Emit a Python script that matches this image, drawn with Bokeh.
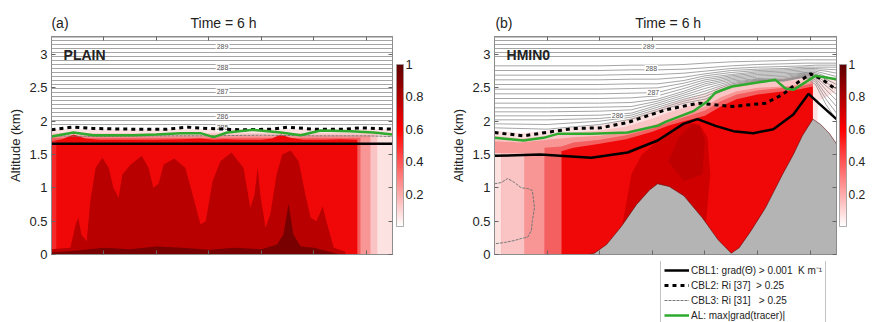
from bokeh.plotting import figure
from bokeh.models import (LinearAxis, FixedTicker, Label, ColorBar, LinearColorMapper,
                          Legend, LegendItem, Range1d)
from bokeh.layouts import row, column
from bokeh.embed import file_html
from bokeh.resources import INLINE

FONT = "Liberation Sans"

# ---------------- axes / ticks ----------------
X_MAX = 65.0
Y_MAX = 3.27
y_ticks = [0, 0.5, 1, 1.5, 2, 2.5, 3]
y_tick_labels = ["0", "0.5", "1", "1.5", "2", "2.5", "3"]
x_ticks = [10, 20, 30, 40, 50, 60]
cbar_ticks = [0.2, 0.4, 0.6, 0.8, 1.0]
cbar_tick_labels = ["0.2", "0.4", "0.6", "0.8", "1"]
header_text = "Time = 6 h"

# ---------------- panel (a) PLAIN ----------------
theta_a = [1.95, 2.01, 2.07, 2.13, 2.19, 2.25, 2.31, 2.37, 2.43, 2.49, 2.55, 2.61,
           2.67, 2.73, 2.79, 2.85, 2.91, 2.97, 3.03, 3.09, 3.15, 3.21, 3.26]
theta_lab_a = ["289", "288", "287", "286", "285"]
theta_lab_a_x = [32.6, 32.6, 32.6, 32.6, 32.6]
theta_lab_a_y = [3.12, 2.80, 2.44, 2.07, 1.90]

a_vlight_x = [0, 65]
a_vlight_top = [1.88, 1.88]
a_light_x = [0, 62.1]
a_light_top = [1.82, 1.82]
a_pink_x = [0, 60.8]
a_pink_top = [1.78, 1.78]
a_redpink_x = [0, 58.9]
a_redpink_top = [1.75, 1.75]
a_red_x = [0, 2, 4.2, 6.5, 9, 15, 20, 25, 28.4, 30.9, 33, 36, 40, 42, 43.7, 45.5, 48, 52, 55, 58.3]
a_red_top = [1.70, 1.73, 1.80, 1.74, 1.72, 1.72, 1.72, 1.73, 1.74, 1.72, 1.73, 1.72, 1.72,
             1.74, 1.80, 1.75, 1.72, 1.72, 1.73, 1.72]
a_edge_x = [0, 0.9]
a_edge_top = [1.70, 1.70]
a_dark_x = [0, 3.6, 4.6, 5.1, 5.7, 6.7, 7.4, 8.4, 9.7, 10.9, 11.8, 12.8, 13.5, 15.1, 17.2,
            18.5, 19.4, 20.4, 21.4, 23.4, 25.5, 26.9, 28.4, 29.4, 30.7, 32.2, 34.3, 36.6,
            37.9, 38.7, 39.3, 39.8, 40.8, 41.7, 42.9, 44.0, 45.6, 47.1, 48.4, 49.4, 50.5,
            51.7, 52.4, 53.8, 56.0]
a_dark_top = [0.08, 0.10, 0.45, 0.55, 0.30, 0.20, 0.80, 1.30, 1.45, 1.30, 1.00, 0.85, 1.20,
              1.35, 1.48, 1.30, 1.00, 1.06, 1.35, 1.44, 1.30, 0.90, 0.45, 0.50, 1.10, 1.40,
              1.53, 1.30, 0.70, 0.90, 1.30, 0.90, 0.40, 0.60, 1.20, 1.50, 1.56, 1.40, 0.90,
              0.55, 0.50, 0.72, 0.50, 0.10, 0.04]
a_darkest_x = [0, 5, 10, 15, 20, 25, 30, 35, 40, 43, 44.2, 45.2, 46.1, 47.5, 50, 53, 55]
a_darkest_top = [0.03, 0.06, 0.10, 0.08, 0.12, 0.10, 0.07, 0.10, 0.08, 0.15, 0.30, 0.76,
                 0.30, 0.12, 0.10, 0.04, 0.0]

cbl1_a_x = [0, 65]
cbl1_a_y = [1.66, 1.66]
cbl2_a_x = [0, 4, 8, 15, 22, 26, 30, 36, 42, 45, 50, 56, 59, 62, 65]
cbl2_a_y = [1.87, 1.91, 1.89, 1.88, 1.88, 1.91, 1.89, 1.87, 1.88, 1.91, 1.88, 1.88, 1.90, 1.89, 1.88]
cbl3_a_x = [0, 10, 20, 30, 40, 50, 60, 65]
cbl3_a_y = [1.78, 1.77, 1.78, 1.78, 1.79, 1.78, 1.78, 1.77]
al_a_x = [0, 4.2, 8, 15.6, 20, 24.6, 28.4, 30.9, 33.5, 38.5, 43.7, 47.5, 51.3, 57, 61.4, 65]
al_a_y = [1.77, 1.83, 1.79, 1.79, 1.80, 1.82, 1.82, 1.76, 1.83, 1.87, 1.83, 1.79, 1.86, 1.85, 1.83, 1.80]

# ---------------- panel (b) HMIN0 ----------------
terrain_x = [0, 17.9, 19.0, 21.3, 24.1, 27.0, 29.5, 31.0, 33.2, 36.0, 39.5, 42.5, 45.0, 46.5,
             48.7, 51.5, 54.8, 56.8, 58.5, 60.5, 62.0, 63.6, 65]
terrain_h = [0, 0, 0.02, 0.15, 0.42, 0.75, 0.97, 1.06, 1.02, 0.88, 0.55, 0.22, 0.02, 0.10,
             0.35, 0.70, 1.21, 1.50, 1.78, 2.03, 1.95, 1.82, 1.66]

theta_b_x = [0, 10, 20, 26, 31, 36, 40, 45, 50, 55, 59, 61, 63, 65]
theta_b_rows = [
    [1.90, 1.88, 1.95, 2.03, 2.15, 2.27, 2.33, 2.52, 2.60, 2.60, 2.66, 2.55, 2.25, 2.02],
    [1.96, 1.95, 2.00, 2.06, 2.18, 2.30, 2.37, 2.54, 2.61, 2.61, 2.67, 2.59, 2.33, 2.12],
    [2.02, 2.02, 2.04, 2.09, 2.21, 2.33, 2.41, 2.56, 2.62, 2.62, 2.68, 2.62, 2.40, 2.22],
    [2.08, 2.08, 2.09, 2.12, 2.24, 2.36, 2.45, 2.58, 2.63, 2.63, 2.69, 2.65, 2.47, 2.31],
    [2.14, 2.14, 2.15, 2.17, 2.27, 2.39, 2.49, 2.60, 2.64, 2.65, 2.70, 2.67, 2.53, 2.40],
    [2.20, 2.20, 2.21, 2.22, 2.30, 2.42, 2.53, 2.62, 2.66, 2.67, 2.71, 2.69, 2.58, 2.48],
    [2.27, 2.27, 2.27, 2.28, 2.33, 2.45, 2.56, 2.64, 2.68, 2.69, 2.72, 2.71, 2.63, 2.55],
    [2.34, 2.34, 2.34, 2.35, 2.38, 2.49, 2.59, 2.66, 2.70, 2.71, 2.73, 2.73, 2.67, 2.61],
    [2.41, 2.41, 2.41, 2.42, 2.43, 2.53, 2.62, 2.68, 2.72, 2.73, 2.75, 2.75, 2.71, 2.67],
    [2.48, 2.48, 2.48, 2.49, 2.50, 2.57, 2.65, 2.70, 2.74, 2.75, 2.77, 2.77, 2.75, 2.72],
    [2.55, 2.55, 2.55, 2.56, 2.56, 2.61, 2.68, 2.73, 2.76, 2.77, 2.79, 2.79, 2.78, 2.77],
    [2.62, 2.62, 2.62, 2.63, 2.63, 2.66, 2.71, 2.76, 2.78, 2.79, 2.81, 2.81, 2.81, 2.81],
    [2.69, 2.69, 2.69, 2.70, 2.70, 2.72, 2.75, 2.79, 2.81, 2.82, 2.83, 2.84, 2.84, 2.84],
    [2.76, 2.76, 2.76, 2.77, 2.77, 2.78, 2.80, 2.83, 2.85, 2.86, 2.87, 2.87, 2.87, 2.87],
    [2.83, 2.83, 2.83, 2.84, 2.84, 2.85, 2.87, 2.89, 2.90, 2.91, 2.92, 2.92, 2.92, 2.92],
]
theta_b_flat = [2.97, 3.03, 3.09, 3.15, 3.21, 3.26]
theta_lab_b = ["289", "288", "287", "286"]
theta_lab_b_x = [29.3, 29.8, 30.2, 23.4]
theta_lab_b_y = [3.12, 2.79, 2.43, 2.09]

b_x = [0, 5, 10, 15, 20, 25, 30, 33, 36, 40, 43, 46, 50, 55, 58, 60.5, 61.5, 65]
b_vlight_bottom = [0, 0, 0, 0, 0, 0, 0, 0, 0, 0, 0, 0, 0, 0, 0, 0, 2.30, 2.45]
b_vlight_top = [1.86, 1.82, 1.86, 1.90, 1.94, 2.02, 2.15, 2.25, 2.33, 2.42, 2.52, 2.58, 2.62,
                2.65, 2.68, 2.72, 2.70, 2.62]
b_mid_x = [0, 5, 10, 15, 20, 25, 30, 33, 36, 40, 43, 46, 50, 55, 58, 60.5]
b_light_top = [1.78, 1.74, 1.78, 1.83, 1.86, 1.92, 2.04, 2.13, 2.20, 2.32, 2.45, 2.52, 2.57,
               2.60, 2.62, 2.66]
b_pink_top = [1.70, 1.68, 1.72, 1.76, 1.78, 1.83, 1.93, 2.02, 2.10, 2.22, 2.36, 2.45, 2.50,
              2.52, 2.55, 2.60]
b_redpink_x = [9.5, 12.7, 15, 20, 25, 30, 33, 36, 40, 43, 46, 50, 55, 58, 60.5]
b_redpink_top = [1.60, 1.62, 1.68, 1.72, 1.79, 1.89, 1.98, 2.06, 2.16, 2.30, 2.40, 2.46, 2.50,
                 2.52, 2.57]
b_red_x = [12.7, 15, 20, 25, 30, 33, 36, 40, 43, 46, 50, 55, 58, 60.5]
b_red_top = [1.55, 1.60, 1.66, 1.73, 1.84, 1.93, 2.00, 2.08, 2.22, 2.33, 2.40, 2.45, 2.48, 2.52]
b_band_left = [0, 1.3, 5.7, 9.5]
b_band_right = [1.3, 5.7, 9.5, 12.7]
b_band_top = [1.52, 1.52, 1.52, 1.52]
b_dark_x = [24, 26, 28, 31, 34, 37, 39, 40.5, 41, 40, 30]
b_dark_y = [0.30, 1.20, 1.50, 1.70, 1.85, 1.98, 1.95, 1.75, 1.20, 0.30, 0.30]
b_darker_x = [33, 35, 37.5, 39, 40, 39.5, 36]
b_darker_y = [1.40, 1.75, 1.95, 1.93, 1.70, 1.20, 1.10]

cbl1_b_x = [0, 8.7, 18.4, 25.3, 31, 35.9, 38.6, 42, 45.4, 49.2, 53, 56.8, 59.7, 61.6, 65]
cbl1_b_y = [1.48, 1.50, 1.45, 1.53, 1.71, 1.96, 2.03, 1.93, 1.85, 1.82, 1.88, 2.10, 2.41, 2.27, 2.03]
cbl2_b_x = [0, 5.5, 15, 20.2, 25.3, 30.2, 32.5, 38.8, 45.2, 51.5, 54.8, 57.8, 60.1, 62.4, 65]
cbl2_b_y = [1.83, 1.78, 1.89, 1.90, 1.98, 2.11, 2.17, 2.27, 2.22, 2.27, 2.40, 2.59, 2.71, 2.62, 2.47]
cbl3_b_x = [0, 1.3, 2.5, 3.8, 5.1, 6.3, 7.2, 7.6, 7.2, 7.0, 6.3, 5.1, 3.8, 1.9, 0]
cbl3_b_y = [1.06, 1.08, 1.14, 1.08, 1.00, 0.99, 0.96, 0.70, 0.51, 0.36, 0.26, 0.24, 0.21, 0.18, 0.16]
al_b_x = [0, 5.5, 9.3, 12, 18.3, 25.3, 31, 32.5, 37.8, 40.5, 42, 45.2, 53.4, 55.3, 56.8, 61, 65]
al_b_y = [1.75, 1.71, 1.75, 1.81, 1.81, 1.83, 1.93, 1.99, 2.15, 2.30, 2.43, 2.52, 2.62, 2.49,
          2.47, 2.68, 2.63]

legend_labels = ["CBL1: grad(\u0398) > 0.001  K m\u207b\u00b9", "CBL2: Ri [37]  > 0.25",
                 "CBL3: Ri [31]   > 0.25", "AL: max|grad(tracer)|"]

# ---------------- styles ----------------
C_VLIGHT = "#fde2e2"
C_LIGHT = "#fbc4c4"
C_PINK = "#f89696"
C_REDPINK = "#f46060"
C_RED = "#f00808"
C_DARK = "#b80000"
C_DARKEST = "#780000"
C_TERRAIN = "#b4b4b4"
C_GREEN = "#2eaa2e"
C_THETA = "#7a7a7a"
C_TEXT = "#222222"

STYLE_CBL1 = dict(line_color="black", line_width=2.5)
STYLE_CBL2 = dict(line_color="black", line_width=3, line_dash="4 4")
STYLE_CBL3 = dict(line_color="#777777", line_width=1, line_dash="3 1")
STYLE_AL = dict(line_color=C_GREEN, line_width=2.5)

stops = [(0.0, (255, 255, 255)), (0.6, (255, 0, 0)), (1.0, (96, 0, 0))]
palette = []
for i in range(256):
    t = i / 255
    for (t0, c0), (t1, c1) in zip(stops[:-1], stops[1:]):
        if t0 <= t <= t1:
            f = (t - t0) / (t1 - t0)
            c = [round(a + (b - a) * f) for a, b in zip(c0, c1)]
            palette.append("#%02x%02x%02x" % tuple(c))
            break
mapper = LinearColorMapper(palette=palette, low=0, high=1)


def style_tick_axis(ax):
    ax.axis_line_color = "#8c8c8c"
    ax.major_tick_in = 4
    ax.major_tick_out = 0
    ax.minor_tick_in = 4
    ax.minor_tick_out = 0
    ax.major_tick_line_color = "#666666"
    ax.minor_tick_line_color = "#666666"


def base_panel(width, height, left_b, right_b, bottom_b, tag, tag_x, head_x):
    p = figure(width=width, height=height, x_range=Range1d(0, X_MAX), y_range=Range1d(0, Y_MAX),
               output_backend="svg", toolbar_location=None, title=None,
               min_border_left=left_b, min_border_right=right_b,
               min_border_top=36, min_border_bottom=bottom_b)
    p.grid.visible = False
    p.outline_line_color = "#8c8c8c"
    p.background_fill_color = "white"
    p.border_fill_color = "white"
    xa = p.xaxis[0]
    xa.ticker = FixedTicker(ticks=[], minor_ticks=x_ticks)
    style_tick_axis(xa)
    ya = p.yaxis[0]
    ya.ticker = FixedTicker(ticks=y_ticks)
    ya.major_label_overrides = {t: s for t, s in zip(y_ticks, y_tick_labels)}
    ya.major_label_text_font = FONT
    ya.major_label_text_font_size = "13px"
    ya.major_label_text_color = C_TEXT
    ya.major_label_standoff = 4
    ya.axis_label = "Altitude (km)"
    ya.axis_label_text_font = FONT
    ya.axis_label_text_font_size = "13px"
    ya.axis_label_text_font_style = "normal"
    ya.axis_label_text_color = C_TEXT
    ya.axis_label_standoff = 3
    style_tick_axis(ya)
    ya.minor_tick_line_color = None
    top = LinearAxis(ticker=FixedTicker(ticks=[tag_x, head_x], minor_ticks=x_ticks),
                     major_label_overrides={tag_x: tag, head_x: header_text},
                     major_label_text_font=FONT, major_label_text_font_size="14px",
                     major_label_text_color=C_TEXT, major_label_standoff=6)
    style_tick_axis(top)
    top.major_tick_line_color = None
    p.add_layout(top, "above")
    right = LinearAxis(ticker=FixedTicker(ticks=[], minor_ticks=y_ticks))
    style_tick_axis(right)
    p.add_layout(right, "right")
    return p


def add_colorbar(p, title_x, label_size):
    cb = ColorBar(color_mapper=mapper, ticker=FixedTicker(ticks=cbar_ticks),
                  major_label_overrides={t: s for t, s in zip(cbar_ticks, cbar_tick_labels)},
                  width=7, height=162, padding=0, margin=0, label_standoff=2,
                  major_label_text_font=FONT, major_label_text_font_size=label_size,
                  major_label_text_color=C_TEXT, major_tick_line_color=None,
                  bar_line_color="#999999", bar_line_width=0.8,
                  background_fill_alpha=0, border_line_color=None, location=(345, 28))
    p.add_layout(cb)
    p.add_layout(Label(x=title_x, y=1.6, text="Normalized Mixing Ratio", angle=90,
                       angle_units="deg", text_align="center", text_baseline="middle",
                       text_font=FONT, text_font_size="13px", text_color=C_TEXT))


def add_name(p, name):
    p.add_layout(Label(x=2.3, y=3.0, text=name, text_align="left", text_baseline="middle",
                       text_font=FONT, text_font_size="14px", text_font_style="bold",
                       text_color=C_TEXT))


def contour_labels(p, xs, ys, texts):
    p.text(x=xs, y=ys, text=texts, text_font_size="7px", text_color="#555555",
           text_align="center", text_baseline="middle", background_fill_color="white",
           padding=1)


# ================= panel (a) =================
pa = base_panel(439, 322, 51, 47, 68, "(a)", 1.62, 32.8)
pa.varea(x=a_vlight_x, y1=0, y2=a_vlight_top, fill_color=C_VLIGHT)
pa.varea(x=a_light_x, y1=0, y2=a_light_top, fill_color=C_LIGHT)
pa.varea(x=a_pink_x, y1=0, y2=a_pink_top, fill_color=C_PINK)
pa.varea(x=a_redpink_x, y1=0, y2=a_redpink_top, fill_color=C_REDPINK)
pa.varea(x=a_red_x, y1=0, y2=a_red_top, fill_color=C_RED)
pa.varea(x=a_edge_x, y1=0, y2=a_edge_top, fill_color="#f42a2a")
pa.varea(x=a_dark_x, y1=0, y2=a_dark_top, fill_color=C_DARK)
pa.varea(x=a_darkest_x, y1=0, y2=a_darkest_top, fill_color=C_DARKEST)
pa.multi_line(xs=[[0, X_MAX] for _ in theta_a], ys=[[h, h] for h in theta_a],
              line_color=C_THETA, line_width=0.8, line_alpha=0.85)
contour_labels(pa, theta_lab_a_x, theta_lab_a_y, theta_lab_a)
pa.line(cbl3_a_x, cbl3_a_y, **STYLE_CBL3)
pa.line(cbl1_a_x, cbl1_a_y, **STYLE_CBL1)
pa.line(cbl2_a_x, cbl2_a_y, **STYLE_CBL2)
pa.line(al_a_x, al_a_y, **STYLE_AL)
add_colorbar(pa, 72.2, "13px")
add_name(pa, "PLAIN")

# ================= panel (b) =================
pb = base_panel(439, 261, 55, 42, 7, "(b)", 1.8, 33.0)
pb.varea(x=b_x, y1=b_vlight_bottom, y2=b_vlight_top, fill_color=C_VLIGHT)
pb.varea(x=b_mid_x, y1=0, y2=b_light_top, fill_color=C_LIGHT)
pb.varea(x=b_mid_x, y1=0, y2=b_pink_top, fill_color=C_PINK)
pb.varea(x=b_redpink_x, y1=0, y2=b_redpink_top, fill_color=C_REDPINK)
pb.varea(x=b_red_x, y1=0, y2=b_red_top, fill_color=C_RED)
pb.quad(left=b_band_left, right=b_band_right, bottom=0, top=b_band_top,
        fill_color=[C_VLIGHT, C_LIGHT, C_PINK, C_REDPINK], line_color=None)
pb.patch(b_dark_x, b_dark_y, fill_color="#d00000", line_color=None)
pb.patch(b_darker_x, b_darker_y, fill_color=C_DARK, line_color=None, fill_alpha=0.7)
pb.multi_line(xs=[theta_b_x for _ in theta_b_rows], ys=theta_b_rows,
              line_color=C_THETA, line_width=0.8, line_alpha=0.85)
pb.multi_line(xs=[[0, X_MAX] for _ in theta_b_flat], ys=[[h, h] for h in theta_b_flat],
              line_color=C_THETA, line_width=0.8, line_alpha=0.85)
contour_labels(pb, theta_lab_b_x, theta_lab_b_y, theta_lab_b)
pb.patch(terrain_x + [X_MAX, 0], terrain_h + [0, 0], fill_color=C_TERRAIN, line_color=None)
pb.line(terrain_x[1:], terrain_h[1:], line_color="#5a0000", line_width=0.8, line_alpha=0.7)
pb.line(cbl3_b_x, cbl3_b_y, **STYLE_CBL3)
pb.line(cbl1_b_x, cbl1_b_y, **STYLE_CBL1)
pb.line(cbl2_b_x, cbl2_b_y, **STYLE_CBL2)
pb.line(al_b_x, al_b_y, **STYLE_AL)
add_colorbar(pb, 71.35, "12px")
add_name(pb, "HMIN0")

# ================= legend strip under panel (b) =================
# the strip's frame is aligned with panel (b)'s frame; its ranges lie away from the
# data, so the series drawn here only serve as legend samples
lg = figure(width=439, height=61, x_range=Range1d(100, 101), y_range=Range1d(100, 101),
            x_axis_location=None, y_axis_location=None, toolbar_location=None,
            output_backend="svg", title=None, min_border=0)
lg.grid.visible = False
lg.outline_line_color = None
lg.background_fill_color = "white"
lg.border_fill_color = "white"
g1 = lg.line(cbl1_b_x, cbl1_b_y, **STYLE_CBL1)
g2 = lg.line(cbl2_b_x, cbl2_b_y, **STYLE_CBL2)
g3 = lg.line(cbl3_b_x, cbl3_b_y, **STYLE_CBL3)
g4 = lg.line(al_b_x, al_b_y, **STYLE_AL)
legend = Legend(items=[LegendItem(label=legend_labels[0], renderers=[g1]),
                       LegendItem(label=legend_labels[1], renderers=[g2]),
                       LegendItem(label=legend_labels[2], renderers=[g3]),
                       LegendItem(label=legend_labels[3], renderers=[g4])],
                location=(166, -4), orientation="vertical",
                label_text_font=FONT, label_text_font_size="10px", label_text_color=C_TEXT,
                glyph_width=25, glyph_height=14, label_height=14, spacing=1, padding=3,
                margin=0, label_standoff=2, border_line_color="#888888",
                background_fill_color="white", background_fill_alpha=1)
lg.add_layout(legend)

layout = row(pa, column(pb, lg))
open("out.html", "w").write(file_html(layout, INLINE))
